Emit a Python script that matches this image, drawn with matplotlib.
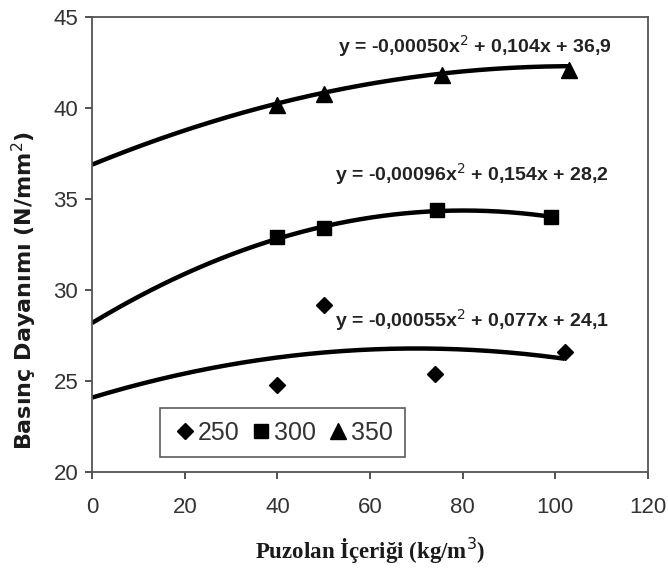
import numpy as np
import matplotlib.pyplot as plt

plt.rcParams['font.family'] = ['Liberation Sans', 'DejaVu Sans']

# measured points (x = puzolan content, y = strength)
x250 = [40, 50, 74, 102]
y250 = [24.8, 29.2, 25.4, 26.6]
x300 = [40, 50, 74.5, 99]
y300 = [32.9, 33.4, 34.4, 34.0]
x350 = [40, 50, 75.5, 103]
y350 = [40.2, 40.8, 41.8, 42.1]

# trend line coefficients (a, b, c) as printed on the chart
fit250 = [-0.00055, 0.077, 24.1]
fit300 = [-0.00096, 0.154, 28.2]
fit350 = [-0.00050, 0.104, 36.9]

eq250 = 'y = -0,00055x$^2$ + 0,077x + 24,1'
eq300 = 'y = -0,00096x$^2$ + 0,154x + 28,2'
eq350 = 'y = -0,00050x$^2$ + 0,104x + 36,9'

fig = plt.figure(figsize=(6.68, 5.73), dpi=100)
ax = fig.add_axes([0.138, 0.176, 0.832, 0.794])

def series(xs, ys, fit, marker, ms, label):
    xx = np.linspace(0, xs[-1], 200)
    ax.plot(xx, np.polyval(fit, xx), color='black', lw=3.2, solid_capstyle='butt')
    ax.plot(xs, ys, ls='none', marker=marker, ms=ms, color='black', label=label)

series(x250, y250, fit250, 'D', 8.5, '250')
series(x300, y300, fit300, 's', 10.5, '300')
series(x350, y350, fit350, '^', 12, '350')

eqfont = dict(fontsize=14, fontweight='bold', color='#222222', ha='left')
ax.text(53, 43.05, eq350, **eqfont)
ax.text(52.5, 36.0, eq300, **eqfont)
ax.text(52.5, 28.0, eq250, **eqfont)

ax.set_xlim(0, 120)
ax.set_ylim(20, 45)
ax.set_xticks(range(0, 121, 20))
ax.set_yticks(range(20, 46, 5))
ax.tick_params(labelsize=16, colors='#333333', length=5, width=1.2)
ax.tick_params(axis='x', pad=13)
ax.tick_params(axis='y', pad=5)
for s in ax.spines.values():
    s.set_color('#555555')
    s.set_linewidth(1.3)

ax.set_xlabel('Puzolan İçeriği (kg/m$^3$)', fontsize=16.5, fontweight='bold',
              family='Liberation Serif', labelpad=13, color='#1a1a1a')
ax.set_ylabel('Basınç Dayanımı (N/mm$^2$)', fontsize=16, fontweight='bold',
              family='DejaVu Sans', color='#1a1a1a')
ax.yaxis.set_label_coords(-0.095, 0.40)

leg = ax.legend(ncol=3, loc='lower left', bbox_to_anchor=(0.122, 0.033, 0.441, 0.132),
                mode='expand', fontsize=18, frameon=True, fancybox=False,
                handletextpad=0.0, handlelength=1.0, columnspacing=0.8,
                borderpad=0.5, borderaxespad=0)
leg.get_frame().set_edgecolor('#333333')
leg.get_frame().set_linewidth(1.2)
for t in leg.get_texts():
    t.set_color('#333333')

plt.savefig('out.png', dpi=100)
